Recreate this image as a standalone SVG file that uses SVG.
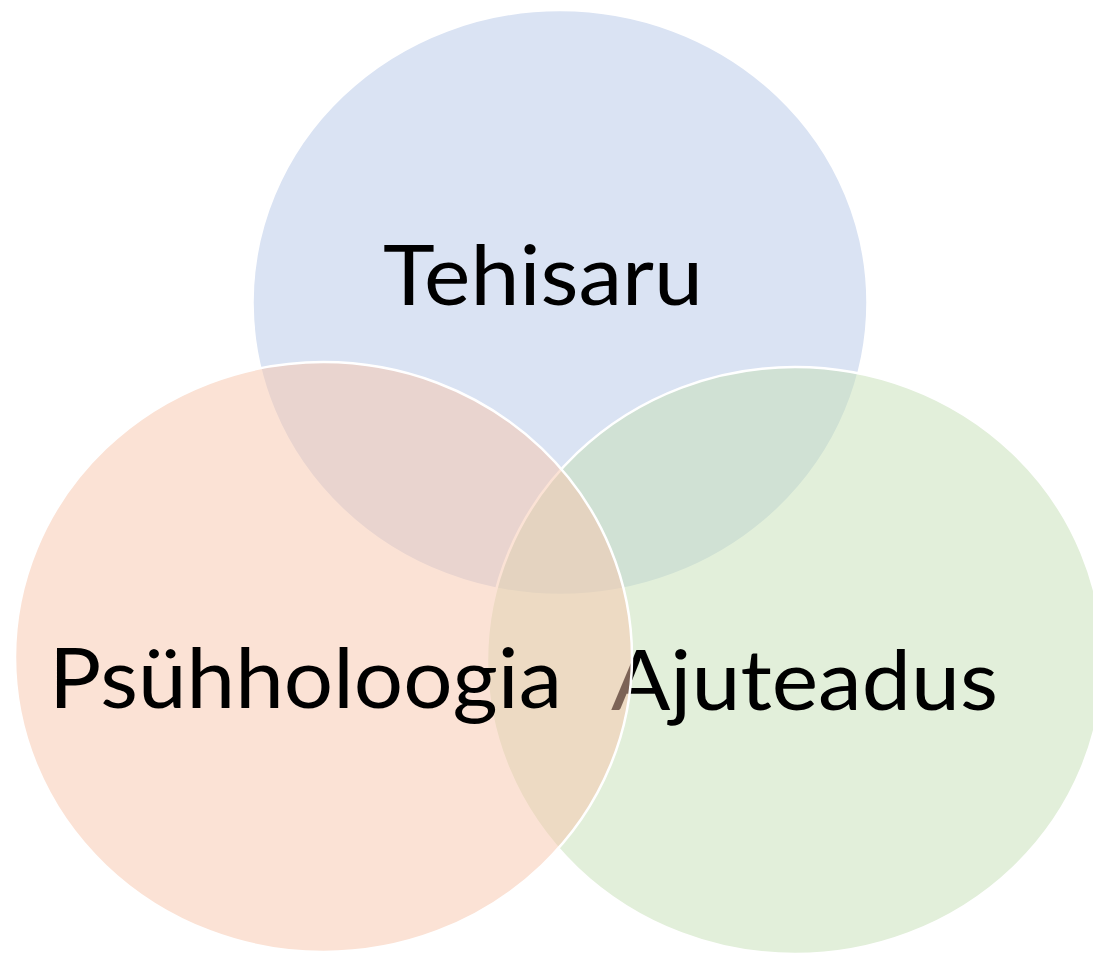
<svg xmlns="http://www.w3.org/2000/svg" width="1093" height="954" viewBox="0 0 1093 954">
<style>
.c{stroke:#ffffff;stroke-width:2.5;fill-opacity:0.5}
.t{font-family:"Lato","Liberation Sans",sans-serif;font-size:84px;fill:#000000}
</style>
<rect width="1093" height="954" fill="#ffffff"/>
<g id="tehisaru">
<ellipse class="c" cx="560" cy="302.5" rx="307.5" ry="292.5" fill="#B5C7E7"/>
<text class="t" x="383" y="305" textLength="320" lengthAdjust="spacingAndGlyphs">Tehisaru</text>
</g>
<g id="ajuteadus">
<ellipse class="c" cx="795" cy="660.5" rx="308" ry="293.5" fill="#C5DFB5"/>
<text class="t" x="611" y="710" textLength="387" lengthAdjust="spacingAndGlyphs">Ajuteadus</text>
</g>
<g id="psuhholoogia">
<ellipse class="c" cx="323.5" cy="657" rx="308.5" ry="295" fill="#F7C5AB"/>
<text class="t" x="49" y="708" textLength="513" lengthAdjust="spacingAndGlyphs">Psühholoogia</text>
</g>
<g id="connectors"></g>
</svg>
